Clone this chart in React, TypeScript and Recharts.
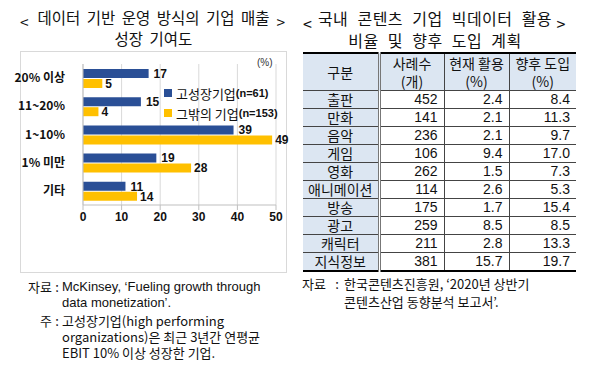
import React from 'react';
import { BarChart, Bar, XAxis, YAxis, CartesianGrid, Legend, LabelList } from 'recharts';

const categories = ['20% 이상', '11~20%', '1~10%', '1% 미만', '기타'];
const highPerf = [17, 15, 39, 19, 11];
const others = [5, 4, 49, 28, 14];
const xTicks = [0, 10, 20, 30, 40, 50];

const genres = ['출판', '만화', '음악', '게임', '영화', '애니메이션', '방송', '광고', '캐릭터', '지식정보'];
const caseCounts = [452, 141, 236, 106, 262, 114, 175, 259, 211, 381];
const currentUse = [2.4, 2.1, 2.1, 9.4, 1.5, 2.6, 1.7, 8.5, 2.8, 15.7];
const futureUse = [8.4, 11.3, 9.7, 17.0, 7.3, 5.3, 15.4, 8.5, 13.3, 19.7];

const BLUE = '#2a4f96';
const YELLOW = '#ffc000';
const KR = '"Noto Sans CJK KR", "Liberation Sans", sans-serif';
const NUM = '"Liberation Sans", "Noto Sans CJK KR", sans-serif';

const chartData = categories.map((name, i) => ({ name, high: highPerf[i], other: others[i] }));

function CategoryTick(props: any) {
  const { x, y, payload } = props;
  return (
    <text x={x} y={y} dy={4} textAnchor="end" fontSize={12} fontWeight="bold" fill="#111" fontFamily={KR}>
      {payload.value}
    </text>
  );
}

function LegendBox() {
  const items = [
    { color: BLUE, kr: '고성장기업', en: '(n=61)' },
    { color: YELLOW, kr: '그밖의 기업', en: '(n=153)' },
  ];
  return (
    <div>
      {items.map((it) => (
        <div key={it.kr} style={{ display: 'flex', alignItems: 'center', height: 20, whiteSpace: 'nowrap' }}>
          <span style={{ width: 8, height: 8, background: it.color, display: 'inline-block', marginRight: 4 }} />
          <span style={{ fontFamily: KR, fontSize: 13, color: '#111' }}>{it.kr}</span>
          <span style={{ fontFamily: NUM, fontSize: 11, fontWeight: 'bold', color: '#111' }}>{it.en}</span>
        </div>
      ))}
    </div>
  );
}

const cellBorder = '1px solid #444';
const headBg = '#dce6f2';
const labelStyle = { fontSize: 12, fontWeight: 'bold', fill: '#111', fontFamily: NUM };

export default function App() {
  const last = genres.length - 1;
  const bodyCell = (i: number, right: boolean) => ({
    textAlign: 'right' as const,
    padding: '0 6px 0 0',
    height: 17,
    lineHeight: '17px',
    fontFamily: NUM,
    borderRight: right ? cellBorder : 'none',
    borderBottom: i < last ? cellBorder : 'none',
  });
  return (
    <div style={{ position: 'absolute', left: 0, top: 0, width: 600, height: 365, background: '#fff', fontFamily: KR, color: '#111' }}>
      <style>{'.recharts-surface{overflow:visible}'}</style>

      {/* left title */}
      <div style={{ position: 'absolute', left: 20, top: 7, width: 267, textAlign: 'center', fontSize: 15.5, wordSpacing: 3, lineHeight: '21px' }}>
        <div>데이터 기반 운영 방식의 기업 매출</div>
        <div>성장 기여도</div>
        <span style={{ position: 'absolute', left: 0, top: 4 }}>&lt;</span>
        <span style={{ position: 'absolute', right: 2, top: 4 }}>&gt;</span>
      </div>

      {/* left chart */}
      <div style={{ position: 'absolute', left: 20, top: 51, width: 265, height: 220, border: '1px solid #d9d9d9' }}>
        <BarChart
          width={265}
          height={220}
          data={chartData}
          layout="vertical"
          margin={{ top: 12, right: 10, left: 0, bottom: 0 }}
          barSize={9}
          barGap={1}
        >
          <CartesianGrid horizontal={false} stroke="#d9d9d9" />
          <XAxis
            type="number"
            domain={[0, 50]}
            ticks={xTicks}
            height={27}
            axisLine={{ stroke: '#bfbfbf' }}
            tickLine={{ stroke: '#bfbfbf' }}
            tickSize={5}
            tick={{ fontSize: 12, fontWeight: 'bold', fill: '#111', fontFamily: NUM }}
          />
          <YAxis
            type="category"
            dataKey="name"
            width={62}
            axisLine={{ stroke: '#bfbfbf' }}
            tickLine={false}
            tickMargin={12}
            tick={<CategoryTick />}
          />
          <Legend
            layout="vertical"
            content={<LegendBox />}
            wrapperStyle={{ position: 'absolute', left: 143, top: 31, width: 'auto' }}
          />
          <Bar dataKey="high" fill={BLUE} isAnimationActive={false}>
            <LabelList dataKey="high" position="right" offset={5} style={labelStyle} />
          </Bar>
          <Bar dataKey="other" fill={YELLOW} isAnimationActive={false}>
            <LabelList dataKey="other" position="right" offset={3} style={labelStyle} />
          </Bar>
        </BarChart>
        <div style={{ position: 'absolute', left: 236, top: 5, fontSize: 10, fontFamily: NUM, color: '#333' }}>(%)</div>
      </div>

      {/* left notes */}
      <div style={{ position: 'absolute', left: 20, top: 279, width: 280, fontSize: 13, lineHeight: '16px' }}>
        <div style={{ display: 'flex' }}>
          <span style={{ width: 32, textAlign: 'right' }}>자료</span>
          <span style={{ width: 10, textAlign: 'center' }}>:</span>
          <span style={{ flex: 1, fontFamily: NUM }}>
            McKinsey, ‘Fueling growth through
            <br />
            data monetization’.
          </span>
        </div>
        <div style={{ display: 'flex', marginTop: 2 }}>
          <span style={{ width: 32, textAlign: 'right' }}>주</span>
          <span style={{ width: 10, textAlign: 'center' }}>:</span>
          <span style={{ flex: 1 }}>
            고성장기업(high performing
            <br />
            organizations)은 최근 3년간 연평균
            <br />
            EBIT 10% 이상 성장한 기업.
          </span>
        </div>
      </div>

      {/* right title */}
      <div style={{ position: 'absolute', left: 300, top: 7, width: 270, textAlign: 'center', fontSize: 16, wordSpacing: 5, letterSpacing: 0.5, lineHeight: '22px' }}>
        <div>국내 콘텐츠 기업 빅데이터 활용</div>
        <div>비율 및 향후 도입 계획</div>
        <span style={{ position: 'absolute', left: 3, top: 5 }}>&lt;</span>
        <span style={{ position: 'absolute', right: 4, top: 5 }}>&gt;</span>
      </div>

      {/* right table */}
      <table
        style={{
          position: 'absolute',
          left: 303,
          top: 52,
          width: 273,
          borderCollapse: 'collapse',
          borderTop: '2px solid #000',
          borderBottom: '2px solid #000',
          fontSize: 14,
          tableLayout: 'fixed',
        }}
      >
        <colgroup>
          <col style={{ width: 76 }} />
          <col style={{ width: 65 }} />
          <col style={{ width: 65 }} />
          <col style={{ width: 67 }} />
        </colgroup>
        <thead>
          <tr>
            <th style={{ background: headBg, fontWeight: 'normal', borderRight: '3px double #777', borderBottom: cellBorder, padding: 0, height: 36 }}>구분</th>
            {[['사례수', '(개)'], ['현재 활용', '(%)'], ['향후 도입', '(%)']].map(([a, b], i) => (
              <th
                key={a}
                style={{
                  background: headBg,
                  fontWeight: 'normal',
                  borderRight: i < 2 ? cellBorder : 'none',
                  borderBottom: cellBorder,
                  padding: 0,
                  height: 36,
                  lineHeight: '18px',
                }}
              >
                <div>{a}</div>
                <div>{b}</div>
              </th>
            ))}
          </tr>
        </thead>
        <tbody>
          {genres.map((g, i) => (
            <tr key={g}>
              <td style={{ background: headBg, textAlign: 'center', borderRight: '3px double #777', borderBottom: i < last ? cellBorder : 'none', padding: 0, height: 17, lineHeight: '17px' }}>{g}</td>
              <td style={bodyCell(i, true)}>{caseCounts[i]}</td>
              <td style={bodyCell(i, true)}>{currentUse[i].toFixed(1)}</td>
              <td style={bodyCell(i, false)}>{futureUse[i].toFixed(1)}</td>
            </tr>
          ))}
        </tbody>
      </table>

      {/* right notes */}
      <div style={{ position: 'absolute', left: 302, top: 275, width: 295, fontSize: 13, lineHeight: '18px', display: 'flex' }}>
        <span style={{ width: 30 }}>자료</span>
        <span style={{ width: 10, textAlign: 'center' }}>:</span>
        <span style={{ flex: 1, paddingLeft: 2 }}>
          한국콘텐츠진흥원, ‘2020년 상반기
          <br />
          콘텐츠산업 동향분석 보고서’.
        </span>
      </div>
    </div>
  );
}
